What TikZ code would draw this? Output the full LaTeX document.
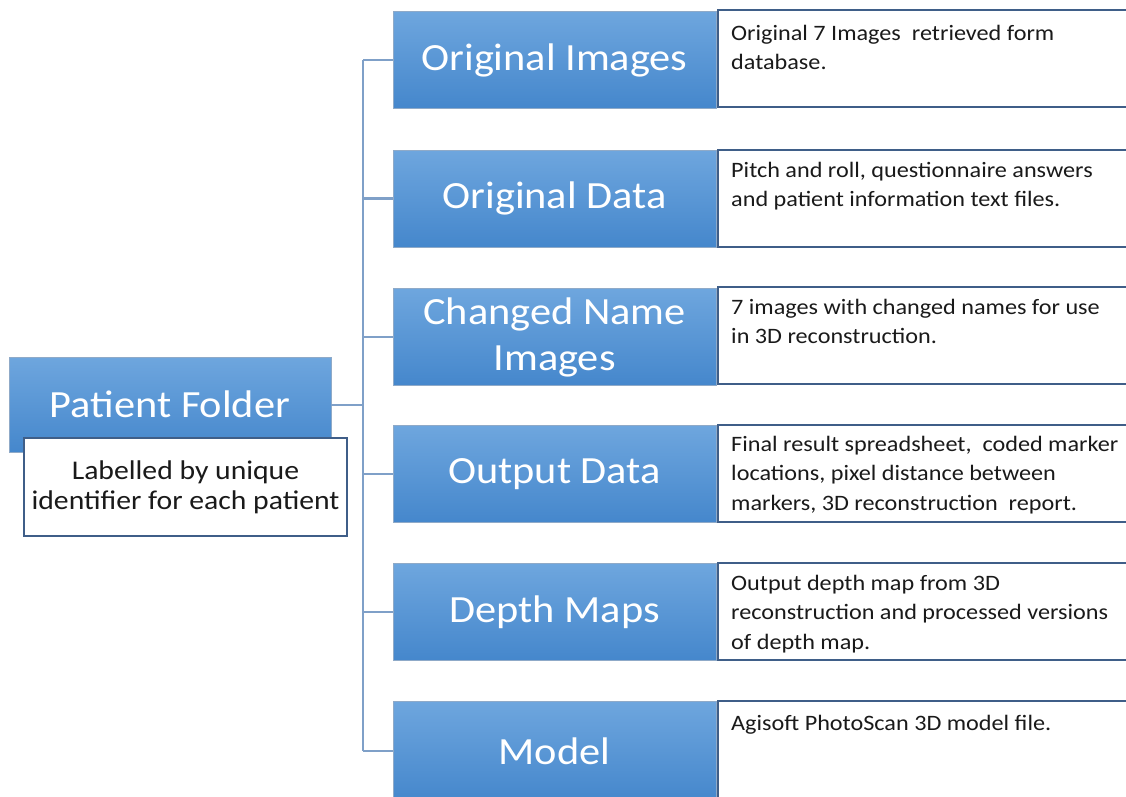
\documentclass[tikz,border=0pt]{standalone}
\usepackage{fontspec}
\setmainfont{Carlito}[FakeStretch=1.1]
\definecolor{bluetop}{HTML}{6EA6DE}
\definecolor{bluebot}{HTML}{4587CC}
\definecolor{bluebrd}{HTML}{8FAAC8}
\definecolor{descbrd}{HTML}{3F5E88}
\definecolor{linkc}{HTML}{7FA0C8}
\definecolor{txt}{HTML}{1A1A1A}
\begin{document}
\begin{tikzpicture}[x=1pt,y=-1pt,
  bluebox/.style={rectangle, minimum width=323pt, minimum height=97pt, inner sep=0pt,
    top color=bluetop, bottom color=bluebot, draw=bluebrd, line width=0.8pt,
    text=white, align=center, font=\fontsize{38.5}{46}\selectfont},
  descbox/.style={draw=descbrd, line width=1.8pt, fill=white},
  desctext/.style={anchor=north west, inner sep=0pt, align=left, text=txt,
    font=\fontsize{22}{29.5}\selectfont},
  link/.style={draw=linkc, line width=2.6pt}]
\useasboundingbox (0,0) rectangle (1126,796);
\fill[white] (0,0) rectangle (1126,796);

% description boxes
\foreach \y in {10,150,287,425,563,701}{
  \draw[descbox] (718,\y) rectangle (1140,\y+97);
}

% blue boxes
\node[bluebox] (b1) at (554.5,60) {Original Images};
\node[bluebox] (b2) at (554.5,198.5) {Original Data};
\node[bluebox] (b3) at (554.5,337) {Changed Name\\Images};
\node[bluebox] (b4) at (554.5,474) {Output Data};
\node[bluebox] (b5) at (554.5,612) {Depth Maps};
\node[bluebox, minimum height=100pt] (b6) at (554.5,751) {Model};

% description texts
\node[desctext] (d1) at (731,25) {Original 7 Images\ \ retrieved form\\database.};
\node[desctext] (d2) at (731,162) {Pitch and roll, questionnaire answers\\and patient information text files.};
\node[desctext] (d3) at (731,299) {7 images with changed names for use\\in 3D reconstruction.};
\node[desctext] (d4) at (731,436) {Final result spreadsheet,\ \ coded marker\\locations, pixel distance between\\markers, 3D reconstruction\ \ report.};
\node[desctext] (d5) at (731,575) {Output depth map from 3D\\reconstruction and processed versions\\of depth map.};
\node[desctext] (d6) at (731,715) {Agisoft PhotoScan 3D model file.};

% patient folder
\node[bluebox, minimum width=322pt, minimum height=95pt] (pf) at (170,404.5) {Patient Folder};
\node[rectangle, draw=descbrd, line width=1.5pt, fill=white, minimum width=323pt, minimum height=98pt,
  inner sep=0pt, align=center, text=txt, font=\fontsize{27}{30}\selectfont] (lab) at (185.5,487) {Labelled by unique\\identifier for each patient};

% connectors
\coordinate (trunk) at (363,405);
\draw[link] (pf.east |- trunk) -- (trunk);
\draw[link] (trunk |- b1.west) -- (trunk |- b6.west);
\foreach \b in {b1,b2,b3,b4,b5,b6}{
  \draw[link] (trunk |- \b.west) -- (\b.west);
}
\end{tikzpicture}
\end{document}
